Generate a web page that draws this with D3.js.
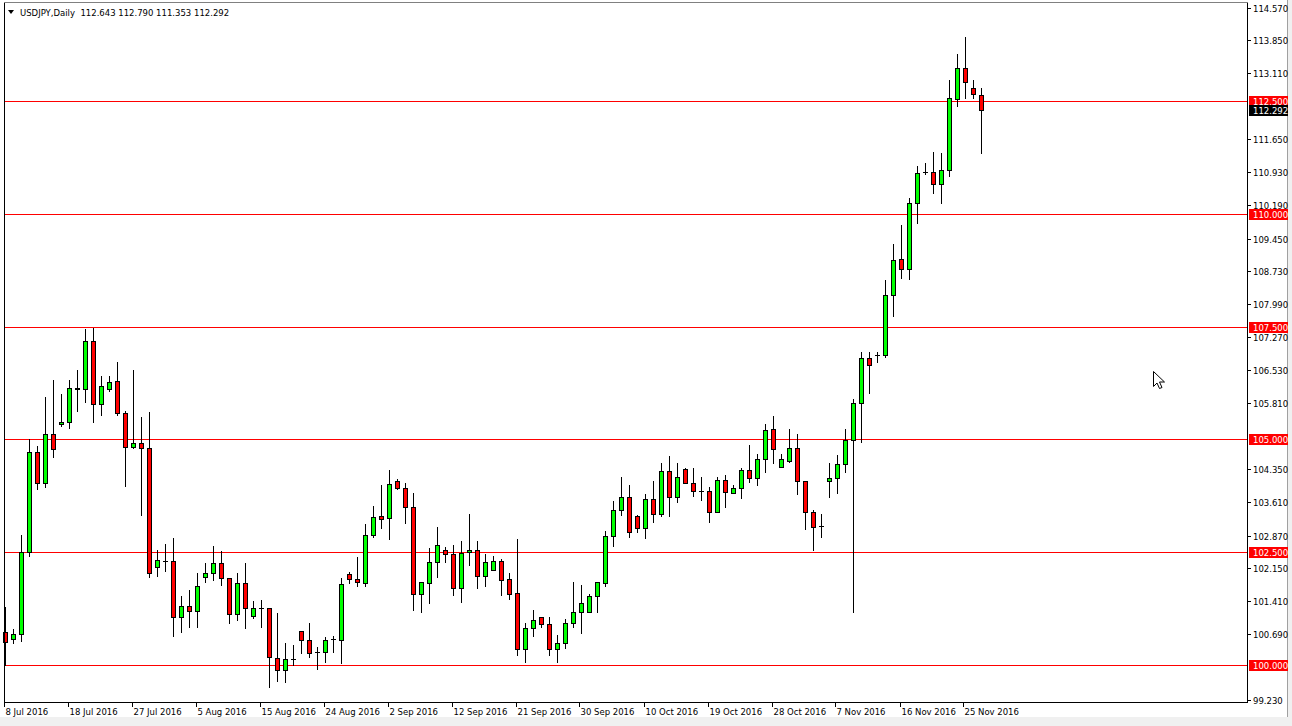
<!DOCTYPE html>
<html><head><meta charset="utf-8">
<script src="https://cdn.jsdelivr.net/npm/d3@7"></script>
<style>html,body{margin:0;padding:0;background:#f0f0f0;overflow:hidden}</style>
</head><body><svg id="c" width="1292" height="726"></svg>
<script>
// ---------- data ----------
const symbolTitle = "USDJPY,Daily";
const headerValues = ["112.643", "112.790", "111.353", "112.292"];

const openV = [
100.74,100.57,100.68,102.50,104.71,104.03,105.13,105.34,105.38,106.15,
106.11,107.17,105.78,106.11,106.29,105.58,104.84,104.91,104.82,102.18,
102.31,102.30,101.06,101.31,101.19,101.96,102.03,102.27,101.92,101.12,
101.81,101.09,101.26,101.26,100.15,99.89,100.14,100.75,100.55,100.28,
100.28,100.57,100.55,102.01,101.90,101.81,102.88,103.30,103.25,104.08,
103.92,103.50,101.57,101.82,102.29,102.54,102.45,101.71,102.51,102.54,
101.98,102.11,102.30,101.90,101.59,100.36,100.81,101.06,100.90,100.36,
100.48,100.92,101.18,101.18,101.53,101.82,102.85,103.43,103.73,103.30,
103.03,103.69,103.34,104.30,103.72,104.34,104.03,103.86,103.86,103.38,
104.10,103.81,103.92,104.32,104.15,104.56,105.23,104.39,104.53,104.82,
104.08,103.38,103.07,104.08,104.14,104.45,104.99,105.80,106.80,106.87,
106.87,108.20,108.99,108.77,110.23,110.92,110.93,110.65,110.97,112.54,
113.24,112.78,112.643];
const highV = [
101.29,100.79,102.88,105.00,104.85,105.95,106.32,106.01,106.32,106.54,
107.45,107.46,106.41,106.41,106.72,105.63,106.54,105.50,105.61,102.55,
102.68,102.81,101.54,101.66,102.05,102.25,102.64,102.53,101.92,102.03,
102.25,101.42,101.44,101.26,101.15,100.48,100.44,100.75,100.94,100.41,
100.61,100.64,101.92,102.07,102.40,103.12,103.52,103.99,104.32,104.12,
104.04,103.81,101.85,102.60,103.05,102.61,102.66,102.75,103.35,102.75,
102.45,102.42,102.36,102.05,102.79,100.94,101.23,101.06,101.06,100.66,
101.02,101.83,101.77,101.57,101.85,102.98,103.64,104.16,103.99,103.32,
103.78,104.08,104.47,104.63,104.47,104.36,104.36,104.17,103.94,104.16,
104.21,103.99,104.36,104.88,104.68,105.34,105.52,104.68,105.23,105.12,
104.08,103.44,103.34,104.47,104.65,105.23,105.90,106.93,106.93,106.93,
108.53,109.33,109.75,110.34,111.06,111.12,111.36,111.34,112.97,113.54,
113.91,112.97,112.790];
const lowV = [
100.00,100.49,100.54,102.42,103.89,103.95,104.62,105.29,105.26,105.64,
105.82,105.39,105.54,106.07,105.54,103.97,104.80,103.32,101.96,101.97,
102.09,100.65,100.74,100.85,100.85,101.85,101.88,101.77,100.94,101.00,
100.81,101.04,100.85,99.52,99.65,99.63,100.00,100.26,100.18,99.91,
100.07,100.28,100.04,101.81,101.76,101.75,102.84,103.04,102.79,103.89,
103.14,101.23,101.18,101.38,101.96,102.29,101.55,101.39,102.22,101.71,
101.76,102.11,101.55,101.46,100.22,100.07,100.64,100.84,100.22,100.07,
100.38,100.84,100.72,101.17,101.18,101.76,102.64,103.32,102.84,102.94,
102.81,103.16,103.31,103.31,103.62,104.03,103.75,103.66,103.16,103.38,
103.51,103.81,103.71,104.05,103.99,104.28,104.47,104.39,104.49,103.78,
103.01,102.55,102.83,103.72,103.82,104.28,101.18,104.95,106.02,106.72,
106.83,107.74,108.58,108.55,109.79,110.88,110.45,110.23,110.84,112.39,
112.56,112.56,111.353];
const closeV = [
100.50,100.68,102.50,104.71,104.03,105.13,104.78,105.39,106.15,106.11,
107.17,105.78,106.18,106.27,105.58,104.84,104.91,104.82,102.05,102.33,
102.31,101.06,101.31,101.19,101.76,102.03,102.27,101.92,101.12,101.81,
101.26,101.26,101.26,100.17,99.89,100.13,100.14,100.55,100.26,100.28,
100.55,100.57,101.80,101.90,101.83,102.88,103.29,103.24,104.01,103.92,
103.50,101.57,101.83,102.29,102.67,102.45,101.71,102.48,102.54,101.97,
102.28,102.30,101.89,101.58,100.36,100.81,100.99,100.90,100.36,100.48,
100.92,101.18,101.37,101.53,101.83,102.85,103.43,103.73,102.94,103.03,
103.69,103.34,104.30,103.72,104.16,104.03,103.86,103.86,103.38,104.10,
103.83,103.92,104.32,104.15,104.56,105.21,104.78,104.56,104.82,104.08,
103.38,103.05,103.07,104.14,104.45,104.99,105.80,106.80,106.66,106.87,
108.20,108.98,108.77,110.23,110.90,110.92,110.65,110.96,112.56,113.24,
112.93,112.65,112.292];

const dateLabels = ["8 Jul 2016","18 Jul 2016","27 Jul 2016","5 Aug 2016","15 Aug 2016",
  "24 Aug 2016","2 Sep 2016","12 Sep 2016","21 Sep 2016","30 Sep 2016","10 Oct 2016",
  "19 Oct 2016","28 Oct 2016","7 Nov 2016","16 Nov 2016","25 Nov 2016"];
const priceTicks = ["114.570","113.850","113.110","111.650","110.930","110.190","109.450",
  "108.730","107.990","107.270","106.530","105.810","104.350","103.610","102.870",
  "102.150","101.410","100.690","99.230"];
const levelLines = [100.0, 102.5, 105.0, 107.5, 110.0, 112.5];
const bidPrice = 112.292;

// ---------- layout ----------
const BARS_PER_LABEL = 8;
const svg = d3.select("#c");
const plotL = 4, plotR = 1247, plotT = 2, plotB = 702;
const FONT = "'DejaVu Sans', Verdana, sans-serif";

const x = d3.scaleLinear().domain([0, openV.length - 1]).range([5.5, 981.5]);
const y = d3.scaleLinear().domain([100, 112.5]).range([665, 101]);
const cy = v => Math.round(y(v)) + 0.5;

// window background
svg.append("rect").attr("x", 0).attr("y", 0).attr("width", 1288).attr("height", 717).attr("fill", "#ffffff");
svg.append("line").attr("x1", 1287.5).attr("x2", 1287.5).attr("y1", 0).attr("y2", 717)
  .attr("stroke", "#a0a0a0").attr("shape-rendering", "crispEdges");

// level lines
svg.append("g").attr("shape-rendering", "crispEdges").selectAll("line").data(levelLines).join("line")
  .attr("x1", plotL).attr("x2", plotR).attr("y1", d => cy(d)).attr("y2", d => cy(d))
  .attr("stroke", "#ff0000").attr("stroke-width", 1);

// candles
const candles = d3.range(openV.length).map(i => ({i, o: openV[i], h: highV[i], l: lowV[i], c: closeV[i]}));
const g = svg.append("g").attr("shape-rendering", "crispEdges");
candles.forEach(d => {
  const xc = x(d.i);
  g.append("line").attr("x1", xc).attr("x2", xc)
    .attr("y1", cy(d.h) - 0.5).attr("y2", cy(d.l) + 0.5)
    .attr("stroke", "#000").attr("stroke-width", 1);
  const top = Math.round(y(Math.max(d.o, d.c)));
  const bot = Math.round(y(Math.min(d.o, d.c)));
  if (bot - top < 1) {
    g.append("line").attr("x1", xc - 2.5).attr("x2", xc + 2.5)
      .attr("y1", top + 0.5).attr("y2", top + 0.5).attr("stroke", "#000");
  } else {
    g.append("rect").attr("x", xc - 2).attr("y", top + 0.5)
      .attr("width", 4).attr("height", bot - top)
      .attr("fill", d.c >= d.o ? "#00ff00" : "#ff0000")
      .attr("stroke", "#000").attr("stroke-width", 1);
  }
});

// frame
const fr = svg.append("g").attr("shape-rendering", "crispEdges").attr("stroke", "#000");
fr.append("line").attr("x1", plotL + 0.5).attr("x2", plotL + 0.5).attr("y1", plotT).attr("y2", plotB + 1);
fr.append("line").attr("x1", plotR + 0.5).attr("x2", plotR + 0.5).attr("y1", plotT).attr("y2", plotB + 1);
fr.append("line").attr("x1", plotL).attr("x2", plotR + 1).attr("y1", plotB + 0.5).attr("y2", plotB + 0.5);
fr.append("line").attr("x1", plotL).attr("x2", plotR + 1).attr("y1", plotT + 0.5).attr("y2", plotT + 0.5)
  .attr("stroke", "#808080");

// price axis
const pt = svg.append("g");
priceTicks.forEach(t => {
  const yy = cy(+t);
  pt.append("line").attr("x1", plotR + 1).attr("x2", plotR + 4).attr("y1", yy).attr("y2", yy)
    .attr("stroke", "#000").attr("shape-rendering", "crispEdges");
  pt.append("text").attr("x", 1253).attr("y", yy + 3.5).attr("font-family", FONT).attr("font-size", 8.5)
    .attr("fill", "#000").text(t);
});

// level labels
levelLines.forEach(v => {
  const yy = Math.round(y(v));
  svg.append("rect").attr("x", 1249).attr("y", yy - 5).attr("width", 39).attr("height", 11).attr("fill", "#ff0000");
  svg.append("text").attr("x", 1253).attr("y", yy + 4).attr("font-family", FONT).attr("font-size", 8.5)
    .attr("fill", "#fff").text(v.toFixed(3));
});
{
  const yy = Math.round(y(bidPrice));
  svg.append("rect").attr("x", 1249).attr("y", yy - 5).attr("width", 39).attr("height", 11).attr("fill", "#000");
  svg.append("text").attr("x", 1253).attr("y", yy + 4).attr("font-family", FONT).attr("font-size", 8.5)
    .attr("fill", "#fff").text(bidPrice.toFixed(3));
}

// time axis
dateLabels.forEach((t, k) => {
  const xx = Math.round(x(k * BARS_PER_LABEL)) - 1.5;
  svg.append("line").attr("x1", xx).attr("x2", xx).attr("y1", plotB + 1).attr("y2", plotB + 5)
    .attr("stroke", "#000").attr("shape-rendering", "crispEdges");
  svg.append("text").attr("x", xx + 1).attr("y", 715).attr("font-family", FONT).attr("font-size", 8.5)
    .attr("fill", "#000").text(t);
});

// header
svg.append("path").attr("d", "M8,10 L14,10 L11,14 Z").attr("fill", "#000");
svg.append("text").attr("x", 20).attr("y", 16).attr("font-family", FONT).attr("font-size", 8.5)
  .attr("fill", "#000").attr("xml:space", "preserve")
  .text(symbolTitle + "  " + headerValues.join(" "));

// mouse cursor
svg.append("path").attr("transform", "translate(1153.5,371.5)")
  .attr("d", "M0,0 L0,15 L3.5,11.5 L6,17 L8.5,16 L6,10.5 L11,10.5 Z")
  .attr("fill", "#fff").attr("stroke", "#000").attr("stroke-width", 1);
</script></body></html>
